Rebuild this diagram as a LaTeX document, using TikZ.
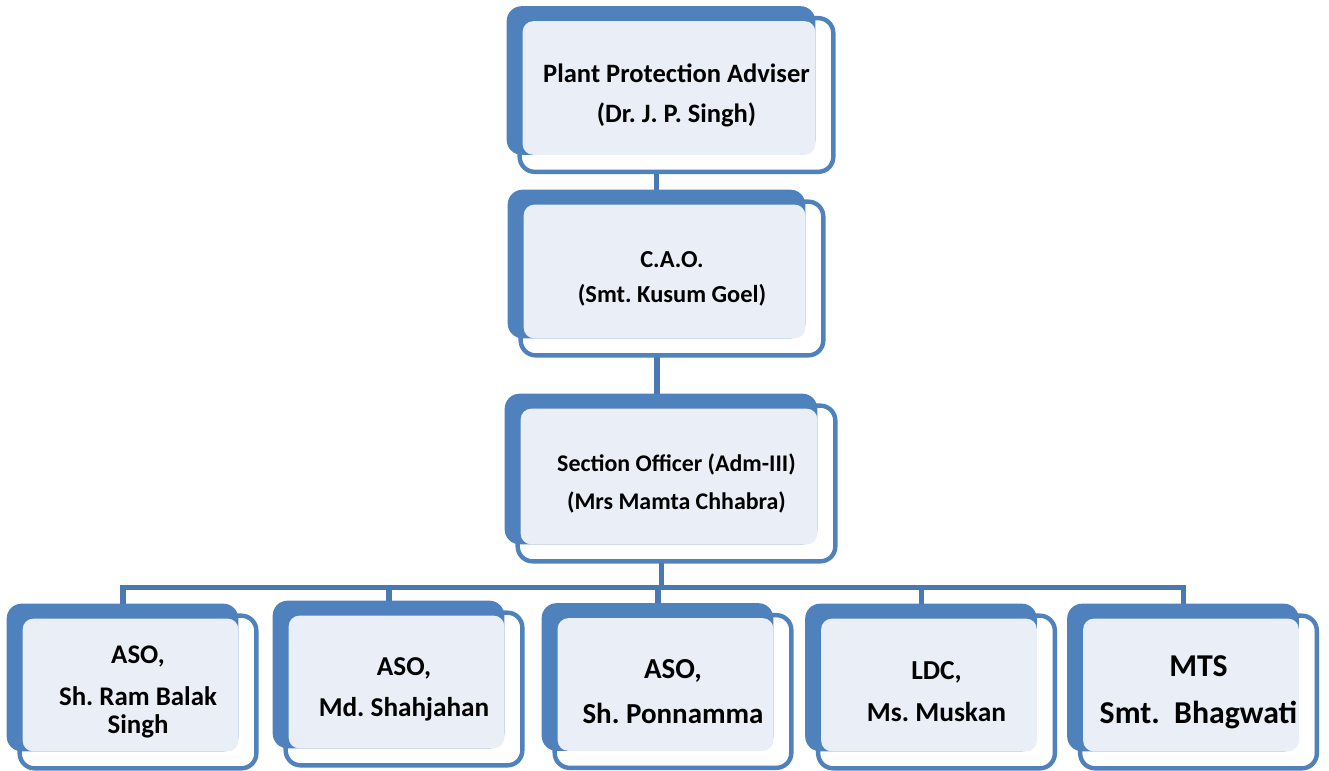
\documentclass[tikz,border=0pt]{standalone}
\usepackage{fontspec}
\setmainfont{Carlito}
\usetikzlibrary{calc}
\pgfdeclarelayer{background}
\pgfsetlayers{background,main}
\definecolor{accent}{RGB}{79,129,189}
\definecolor{panel}{RGB}{233,238,247}
\definecolor{linkblue}{RGB}{74,120,178}
\frenchspacing
\begin{document}
\begin{tikzpicture}[x=0.02cm,y=-0.02cm,
    post/.style={align=center,inner sep=0pt},
    toprow/.style={post,minimum height=3.06cm},
    staff/.style={post,minimum width=4.72cm,minimum height=3.04cm},
    frame/.style={draw=accent,line width=2.5pt,fill=white,rounded corners=8.5pt},
    link/.style={draw=linkblue,line width=3pt}]
    \useasboundingbox (0,0) rectangle (1329,771);
    % management
    \node[toprow,minimum width=6.26cm,font=\fontsize{15.1}{22.7}\selectfont\bfseries] (ppa) at (676.5,95) {Plant Protection Adviser\\(Dr. J. P. Singh)};
    \node[toprow,minimum width=6.04cm,font=\fontsize{13.9}{19.8}\selectfont\bfseries] (cao) at (672,278.5) {C.A.O.\\(Smt. Kusum Goel)};
    \node[toprow,minimum width=6.34cm,minimum height=3.1cm,font=\fontsize{13.6}{22}\selectfont\bfseries] (so) at (676.5,483.5) {Section Officer (Adm-III)\\(Mrs Mamta Chhabra)};
    % staff of the section
    \node[staff,font=\fontsize{15.3}{16}\selectfont\bfseries] (asoa) at (138,692) {ASO,\\[7.8pt]Sh. Ram Balak\\Singh};
    \node[staff,font=\fontsize{15.5}{23.2}\selectfont\bfseries] (asob) at (404,689) {ASO,\\Md. Shahjahan};
    \node[staff,font=\fontsize{16.5}{25.5}\selectfont\bfseries] (asoc) at (673,691.5) {ASO,\\Sh. Ponnamma};
    \node[staff,font=\fontsize{15.6}{23.8}\selectfont\bfseries] (ldc) at (936.5,692) {LDC,\\Ms. Muskan};
    \node[staff,font=\fontsize{18.1}{26.6}\selectfont\bfseries] (mts) at (1198.5,692) {MTS\\Smt.\ \ Bhagwati};
    \begin{pgfonlayer}{background}
        \coordinate (ppaout) at ($(ppa.south)+(-20,0)$);
        \coordinate (caoout) at ($(cao.south)+(-15,0)$);
        \coordinate (soout) at ($(so.south)+(-15,0)$);
        \coordinate (bus) at ($(soout)+(0,26)$);
        \draw[link] (ppaout) -- (ppaout |- cao.north);
        \draw[link] (caoout) -- (caoout |- so.north);
        \draw[link] (soout) -- (bus);
        \foreach \n in {asoa,asob,asoc,ldc,mts}
            \draw[link] (bus) -| ($(\n.north)+(-15,0)$);
        \foreach \n in {ppa,cao,so,asoa,asob,asoc,ldc,mts} {
            \draw[frame] (\n.north west) rectangle (\n.south east);
            \fill[accent,rounded corners=8.5pt] ($(\n.north west)+(-13,-12)$) rectangle ($(\n.south east)+(-18,-17)$);
            \fill[panel,rounded corners=6pt] ($(\n.north west)+(3,3)$) rectangle ($(\n.south east)+(-18,-17)$);
        }
    \end{pgfonlayer}
\end{tikzpicture}
\end{document}
